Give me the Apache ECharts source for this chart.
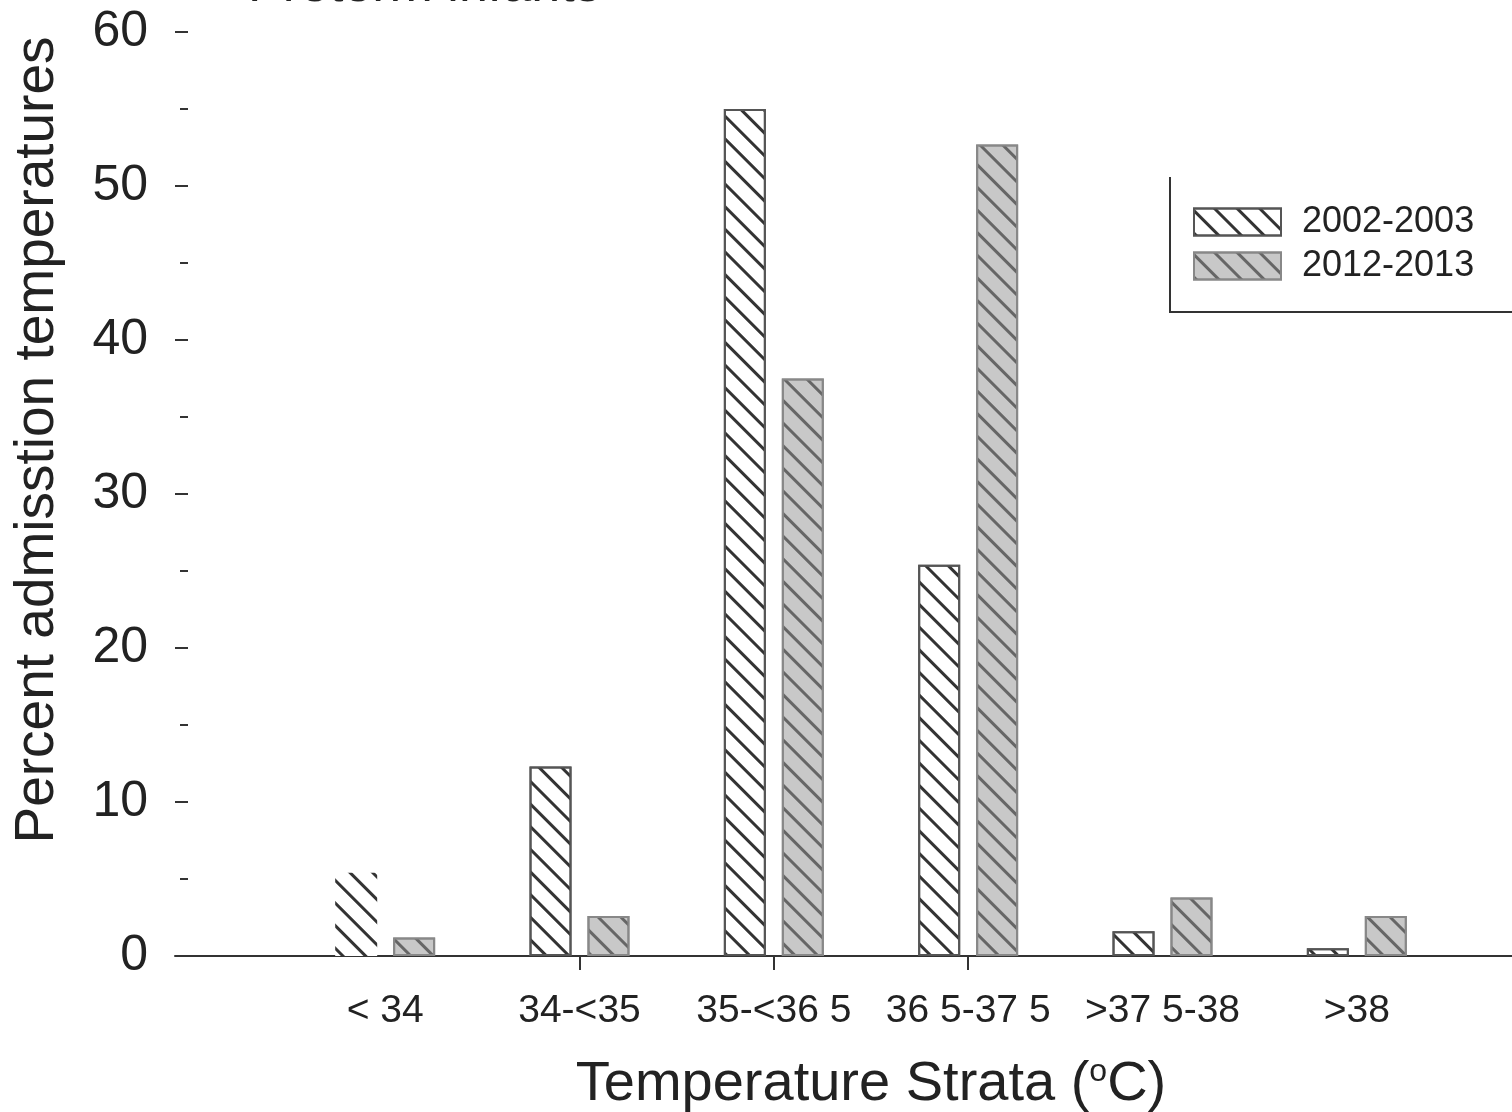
<!DOCTYPE html>
<html>
<head>
<meta charset="utf-8">
<style>
  html, body { margin: 0; padding: 0; background: #fff; }
  #chart { width: 1512px; height: 1112px; }
</style>
<script src="https://cdn.jsdelivr.net/npm/echarts@6/dist/echarts.min.js"></script>
</head>
<body>
<div id="chart"></div>
<script>
const categories = ['< 34', '34-<35', '35-<36 5', '36 5-37 5', '>37 5-38', '>38'];
const seriesNames = ['2002-2003', '2012-2013'];
const values2002 = [5.4, 12.3, 55.0, 25.4, 1.6, 0.5];
const values2012 = [1.2, 2.6, 37.5, 52.7, 3.8, 2.6];
const yTicks = { min: 0, max: 60, interval: 10 };

const FONT = '"Liberation Sans", Arial, sans-serif';
const chart = echarts.init(document.getElementById('chart'), null, { renderer: 'canvas' });

const hatch = (color) => ({
  symbol: 'rect',
  symbolSize: 1,
  color: color,
  dashArrayX: [1, 0],
  dashArrayY: [2.5, 13],
  rotation: Math.PI / 4
});

const option = {
  backgroundColor: '#fff',
  animation: false,
  textStyle: { fontFamily: FONT, color: '#222' },
  grid: [
    { left: 175, right: 0, top: 32, bottom: 156, outerBoundsMode: 'none', containLabel: false },
    { left: 288, right: 58, top: 32, bottom: 156, outerBoundsMode: 'none', containLabel: false }
  ],
  legend: {
    left: 1188,
    top: 199,
    orient: 'vertical',
    icon: 'rect',
    itemWidth: 87,
    itemHeight: 27,
    itemGap: 8,
    data: seriesNames,
    textStyle: { fontSize: 36, color: '#222', fontFamily: FONT, padding: [0, 0, 0, 16] }
  },
  graphic: [
    {
      type: 'polyline',
      shape: { points: [[1170, 177], [1170, 312], [1512, 312]] },
      style: { stroke: '#333', lineWidth: 2, fill: null }
    },
    {
      type: 'text',
      x: 38, y: 440,
      rotation: Math.PI / 2,
      style: {
        text: 'Percent admisstion temperatures',
        fontSize: 55, fontFamily: FONT, fill: '#222',
        align: 'center', verticalAlign: 'middle'
      }
    },
    {
      type: 'text',
      x: 248, y: 13,
      style: {
        text: 'Preterm infants',
        fontSize: 52, fontFamily: FONT, fill: '#222',
        align: 'left', verticalAlign: 'bottom'
      }
    }
  ],
  xAxis: [
    {
      gridIndex: 0, type: 'value', min: 0, max: 1,
      axisLine: { show: true, lineStyle: { color: '#333', width: 2 } },
      axisTick: { show: false }, axisLabel: { show: false }, splitLine: { show: false }
    },
    {
      gridIndex: 1, type: 'category', data: categories,
      axisLine: { show: false },
      axisTick: {
        show: true, alignWithLabel: true, length: 14,
        interval: (i) => i >= 1 && i <= 3,
        lineStyle: { color: '#333', width: 2 }
      },
      axisLabel: { fontSize: 39, color: '#222', margin: 36, fontFamily: FONT, interval: 0 },
      name: 'Temperature Strata ({sup|o}C)',
      nameLocation: 'middle',
      nameGap: 100,
      nameTextStyle: {
        fontSize: 56, color: '#222', fontFamily: FONT,
        rich: { sup: { fontSize: 32, verticalAlign: 'top', color: '#222', fontFamily: FONT, padding: [0, 0, 26, 0] } }
      }
    }
  ],
  yAxis: [
    {
      gridIndex: 0, type: 'value',
      min: yTicks.min, max: yTicks.max, interval: yTicks.interval,
      offset: -13,
      axisLine: { show: false },
      axisTick: { show: true, length: 13, lineStyle: { color: '#333', width: 2 } },
      minorTick: { show: true, splitNumber: 2, length: 8, lineStyle: { color: '#333', width: 2 } },
      axisLabel: { fontSize: 50, color: '#222', margin: 40, fontFamily: FONT },
      splitLine: { show: false }
    },
    {
      gridIndex: 1, type: 'value',
      min: yTicks.min, max: yTicks.max, interval: yTicks.interval,
      show: false
    }
  ],
  series: [
    {
      name: seriesNames[0], type: 'bar', xAxisIndex: 1, yAxisIndex: 1,
      barWidth: 42, barGap: '38%',
      data: values2002.map((v, i) => i === 0 ? { value: v, itemStyle: { borderWidth: 0 } } : v),
      itemStyle: { color: '#fff', borderColor: '#555', borderWidth: 2, decal: hatch('#333') }
    },
    {
      name: seriesNames[1], type: 'bar', xAxisIndex: 1, yAxisIndex: 1,
      barWidth: 42,
      data: values2012,
      itemStyle: { color: '#c8c8c8', borderColor: '#888', borderWidth: 2, decal: hatch('#666') }
    }
  ]
};
chart.setOption(option);
</script>
</body>
</html>
